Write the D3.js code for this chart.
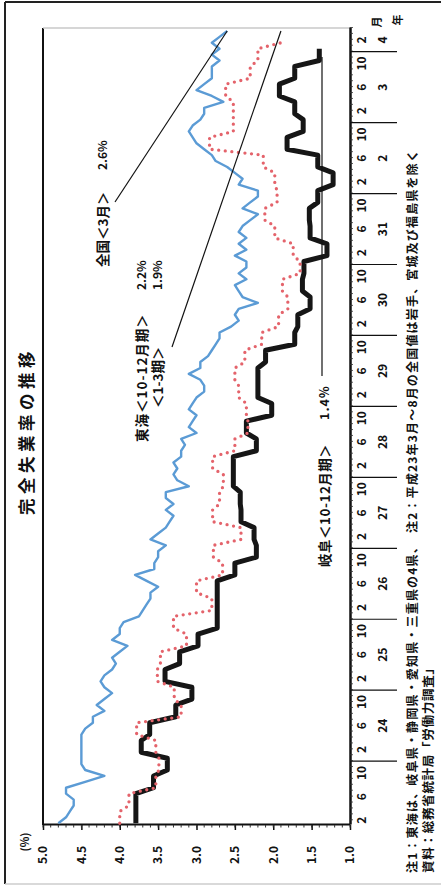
<!DOCTYPE html>
<html><head><meta charset="utf-8">
<script src="https://cdn.jsdelivr.net/npm/d3@7"></script>
<style>
html,body{margin:0;padding:0;background:#fff;}
svg{display:block;}
text{font-family:"Noto Sans CJK JP","Noto Sans",sans-serif;font-weight:bold;fill:#111;}
</style></head><body>
<svg id="chart" width="441" height="886"></svg>
<script>
// ---------------- data ----------------
// month index 0 = 平成23年(2011)1月
const yearLabels = ["24","25","26","27","28","29","30","31","2","3","4"]; // 2012 … 2022
const monthLabels = ["2","6","10"];
const valueTicks = [5.0,4.5,4.0,3.5,3.0,2.5,2.0,1.5,1.0];

// 全国 (monthly, %)
const zenkoku = [
4.8,4.7,4.65,4.6,4.6,4.7,4.7,4.45,4.2,4.45,4.5,4.5,
4.5,4.5,4.5,4.5,4.45,4.35,4.35,4.2,4.3,4.2,4.1,4.2,
4.25,4.2,4.1,4.05,4.1,4.0,3.9,4.1,4.0,4.0,3.95,3.75,
3.7,3.65,3.6,3.6,3.5,3.65,3.8,3.55,3.55,3.5,3.5,3.4,
3.6,3.5,3.4,3.35,3.3,3.4,3.3,3.4,3.4,3.1,3.25,3.3,
3.25,3.3,3.2,3.2,3.15,3.2,3.0,3.1,3.05,3.0,3.1,3.05,
3.0,2.9,2.9,2.95,3.1,2.95,2.95,2.85,2.8,2.75,2.7,2.7,
2.55,2.45,2.5,2.45,2.2,2.4,2.45,2.5,2.35,2.45,2.35,2.35,
2.5,2.35,2.45,2.35,2.45,2.4,2.3,2.2,2.4,2.3,2.2,2.2,
2.45,2.4,2.5,2.6,2.75,2.8,2.9,3.0,3.05,3.1,3.05,2.95,
2.9,2.9,2.65,2.8,3.0,2.9,2.8,2.8,2.8,2.7,2.8,2.7,
2.8,2.7,2.6];

// 東海 (quarterly, %) 2011 1-3月期 …, last entry = 2022 1-3月期
const tokai = [
4.0,3.88,3.53,3.49,
3.53,3.78,3.2,3.29,
3.51,3.47,3.13,3.3,
2.8,3.0,2.66,2.78,
2.42,2.79,2.7,2.65,
2.79,2.5,2.33,2.35,
2.45,2.5,2.37,2.15,
1.93,1.81,1.88,1.65,
1.74,1.98,2.11,1.95,
1.98,2.13,2.83,2.52,
2.52,2.62,2.3,2.2,
1.9];
const tokaiLastQuarterMonths = 1;

// 岐阜 (quarterly, %)
const gifu = [
3.79,3.79,3.56,3.38,
3.72,3.61,3.27,3.06,
3.41,3.22,2.98,2.73,
2.73,2.73,2.5,2.22,
2.25,2.42,2.43,2.52,
2.52,2.22,2.35,2.02,
2.2,2.2,2.1,1.72,
1.68,1.52,1.62,1.6,
1.3,1.52,1.53,1.42,
1.22,1.42,1.82,1.61,
1.72,1.92,1.72,1.4];

// ---------------- chart ----------------
const svg = d3.select("#chart");
const W = 441, H = 886;

// outer frame of the clipping
svg.append("line").attr("x1",5).attr("y1",2).attr("x2",441).attr("y2",2).attr("stroke","#222").attr("stroke-width",2);
svg.append("line").attr("x1",5).attr("y1",2).attr("x2",5).attr("y2",884).attr("stroke","#222").attr("stroke-width",2);
svg.append("line").attr("x1",5).attr("y1",884).attr("x2",441).attr("y2",884).attr("stroke","#ccc").attr("stroke-width",1.5);

// the whole chart is printed rotated 90° counter-clockwise
const g = svg.append("g").attr("transform",`translate(0,${H}) rotate(-90)`);

const x = d3.scaleLinear().domain([-0.3,134.5]).range([61,858]);
const y = d3.scaleLinear().domain([1,5]).range([350,43]);

// plot frame
g.append("line").attr("x1",x.range()[0]).attr("x2",x.range()[1]).attr("y1",y(5)).attr("y2",y(5))
  .attr("stroke","#111").attr("stroke-width",2);
g.append("line").attr("x1",x.range()[1]).attr("x2",x.range()[1]).attr("y1",y(5)).attr("y2",y(1))
  .attr("stroke","#c8c8c8").attr("stroke-width",1.5);

// value axis
const yAxis = g.append("g").attr("transform",`translate(${x.range()[0]},0)`)
  .call(d3.axisLeft(y).tickValues(valueTicks).tickFormat(d3.format(".1f")).tickSize(5).tickSizeOuter(0).tickPadding(16));
yAxis.select(".domain").attr("stroke","#111").attr("stroke-width",2);
yAxis.selectAll(".tick line").attr("stroke","#111").attr("stroke-width",1.5);
yAxis.selectAll(".tick text").attr("font-size",12).attr("font-family",'"Noto Sans CJK JP",sans-serif').attr("font-weight","bold").attr("fill","#111");
g.append("g").selectAll("line").data(d3.range(10,51).map(d=>d/10)).join("line")
  .attr("x1",x.range()[0]-2.5).attr("x2",x.range()[0]).attr("y1",d=>y(d)).attr("y2",d=>y(d))
  .attr("stroke","#333").attr("stroke-width",1);
g.append("text").attr("x",44).attr("y",29).attr("text-anchor","middle").attr("font-size",11).text("(%)");

// time axis
const monthTicks = d3.range(0,135).map(t=>t+0.5);
const xAxis = g.append("g").attr("transform",`translate(0,${y(1)})`)
  .call(d3.axisBottom(x).tickValues(monthTicks).tickSize(3).tickSizeOuter(0).tickFormat(""));
xAxis.select(".domain").attr("stroke","#111").attr("stroke-width",2.5);
xAxis.selectAll(".tick line").attr("stroke","#333").attr("stroke-width",0.8);

const yearBounds = yearLabels.map((lab,i)=>12*(i+1)-1.5);
g.append("g").selectAll("line").data(yearBounds).join("line")
  .attr("x1",d=>x(d)).attr("x2",d=>x(d)).attr("y1",y(1)).attr("y2",397)
  .attr("stroke","#111").attr("stroke-width",1.2);

const mLab = [];
for (let k=0;k<=11;k++) monthLabels.forEach(m=>{
  const t = 12*k + (+m) - 1.5;
  if (t < x.domain()[1]) mLab.push({t,m});
});
g.append("g").selectAll("text").data(mLab).join("text")
  .attr("x",d=>x(d.t)).attr("y",362).attr("dy","0.36em").attr("text-anchor","middle")
  .attr("font-size",12).text(d=>d.m);
g.append("g").selectAll("text").data(yearLabels).join("text")
  .attr("x",(d,i)=>x((12*(i+1)-1.5 + Math.min(12*(i+2)-1.5, x.domain()[1]))/2))
  .attr("y",383).attr("dy","0.36em").attr("text-anchor","middle").attr("font-size",12).text(d=>d);
g.append("text").attr("x",864).attr("y",377).attr("dy","0.36em").attr("text-anchor","middle").attr("font-size",11).text("月");
g.append("text").attr("x",866).attr("y",398).attr("dy","0.36em").attr("text-anchor","middle").attr("font-size",11).text("年");

// series
const monthly = arr => arr.map((v,t)=>({t,v}));
const quarterly = (arr,lastMonths=3) => arr.flatMap((v,q)=>d3.range(q===arr.length-1?lastMonths:3).map(k=>({t:q*3+k,v})));
const line = d3.line().x(d=>x(d.t)).y(d=>y(d.v));

g.append("path").datum(monthly(zenkoku)).attr("d",line)
  .attr("fill","none").attr("stroke","#5b9bd5").attr("stroke-width",2.4).attr("stroke-linejoin","round");
g.append("path").datum(quarterly(gifu)).attr("d",line)
  .attr("fill","none").attr("stroke","#161616").attr("stroke-width",5).attr("stroke-linejoin","round");
g.append("path").datum(quarterly(tokai,tokaiLastQuarterMonths)).attr("d",line)
  .attr("fill","none").attr("stroke","#e4636b").attr("stroke-width",3.3)
  .attr("stroke-dasharray","0 6.6").attr("stroke-linecap","round");

// title
g.append("text").attr("x",455).attr("y",33).attr("text-anchor","middle").attr("font-size",16.5)
  .attr("letter-spacing",4.5).text("完全失業率の推移");

// annotations
const ann = g.append("g");
ann.append("text").attr("x",619).attr("y",108).attr("font-size",13.5).text("全国＜3月＞");
ann.append("text").attr("x",716).attr("y",107).attr("font-size",12).text("2.6%");
ann.append("line").attr("x1",684).attr("y1",115).attr("x2",x(134)).attr("y2",y(2.6)).attr("stroke","#111").attr("stroke-width",1.2);

ann.append("text").attr("x",444).attr("y",147).attr("font-size",13.5).attr("letter-spacing",1).text("東海＜10-12月期＞");
ann.append("text").attr("x",596).attr("y",146).attr("font-size",12).text("2.2%");
ann.append("text").attr("x",478).attr("y",163).attr("font-size",13.5).text("＜1-3期＞");
ann.append("text").attr("x",596).attr("y",162).attr("font-size",12).text("1.9%");
ann.append("line").attr("x1",539).attr("y1",172).attr("x2",x(134)).attr("y2",y(1.9)).attr("stroke","#111").attr("stroke-width",1.2);

ann.append("text").attr("x",319).attr("y",330).attr("font-size",13.5).attr("letter-spacing",0.5).text("岐阜＜10-12月期＞");
ann.append("text").attr("x",466).attr("y",329).attr("font-size",12.5).attr("letter-spacing",1).text("1.4%");
ann.append("line").attr("x1",510).attr("y1",322).attr("x2",829).attr("y2",322).attr("stroke","#111").attr("stroke-width",1.2);

// notes
g.append("text").attr("x",13).attr("y",417).attr("font-size",12).attr("textLength",723).attr("lengthAdjust","spacing")
  .text("注1：東海は、岐阜県・静岡県・愛知県・三重県の4県、　注2：平成23年3月～8月の全国値は岩手、宮城及び福島県を除く");
g.append("text").attr("x",13).attr("y",433).attr("font-size",12.5).attr("textLength",211).attr("lengthAdjust","spacing")
  .text("資料：総務省統計局「労働力調査」");
</script>
</body></html>
